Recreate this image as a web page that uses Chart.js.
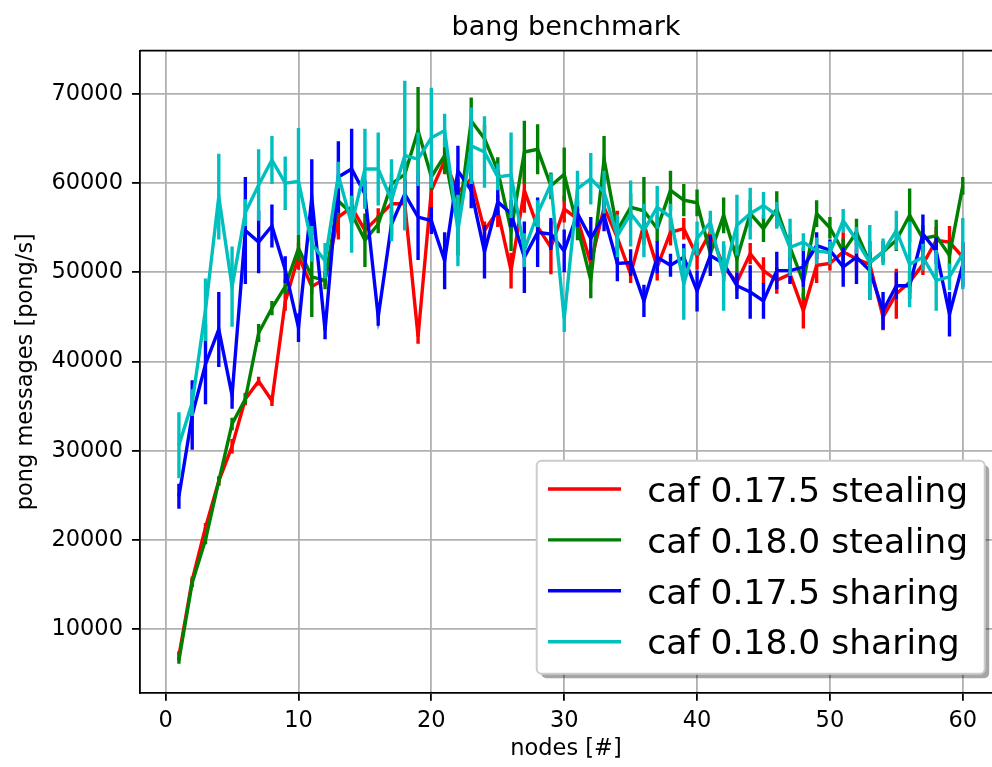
<!DOCTYPE html>
<html>
<head>
<meta charset="utf-8">
<title>bang benchmark</title>
<script src="https://cdn.jsdelivr.net/npm/chart.js@4.4.1/dist/chart.umd.min.js"></script>
<style>
    html, body { margin: 0; padding: 0; background: #fff; }
    canvas { display: block; }
</style>
</head>
<body>
<canvas id="chart" width="992" height="767"></canvas>
<script>
const nodes = [1, 2, 3, 4, 5, 6, 7, 8, 9, 10, 11, 12, 13, 14, 15, 16, 17, 18, 19, 20,
    21, 22, 23, 24, 25, 26, 27, 28, 29, 30, 31, 32, 33, 34, 35, 36, 37, 38, 39, 40,
    41, 42, 43, 44, 45, 46, 47, 48, 49, 50, 51, 52, 53, 54, 55, 56, 57, 58, 59, 60];

const xTicks = [0, 10, 20, 30, 40, 50, 60];
const yTicks = [10000, 20000, 30000, 40000, 50000, 60000, 70000];

const seriesLabels = ['caf 0.17.5 stealing', 'caf 0.18.0 stealing', 'caf 0.17.5 sharing', 'caf 0.18.0 sharing'];
const seriesColors = ['#ff0000', '#008000', '#0000ff', '#00bfbf'];

// mean pong rate per node count
const stealing175 = [7000, 15500, 21400, 26600, 30500, 35800, 37800, 35600, 46700, 51800,
    48400, 49300, 56200, 57300, 54700, 56200, 57700, 57700, 42800, 59200,
    62500, 59000, 60500, 54700, 56900, 50200, 59200, 55100, 52800, 57100,
    56000, 51000, 57300, 53900, 49800, 55400, 50600, 54500, 54900, 51800,
    54500, 50600, 48900, 52100, 50200, 49100, 49800, 45700, 50800, 51000,
    52300, 51500, 50900, 45000, 47600, 48900, 50900, 53600, 53400, 51700];
const stealing180 = [6500, 15200, 20000, 26600, 33000, 35800, 43200, 46000, 48400, 52700,
    49500, 49100, 58000, 56600, 53600, 55400, 59900, 61000, 65900, 60700,
    63100, 55400, 67000, 65000, 61400, 54700, 63500, 63800, 59700, 61000,
    55100, 49100, 62700, 54700, 57300, 56900, 54900, 59200, 58100, 57800,
    52100, 56400, 51500, 56600, 54900, 57100, 52800, 48900, 56600, 55000,
    52300, 54500, 51100, 52300, 53600, 56400, 53800, 54100, 51900, 59700];
const sharing175 = [24900, 34000, 39700, 43600, 36200, 54700, 53400, 55200, 50300, 43800,
    58400, 43500, 60700, 61600, 58800, 45000, 55400, 58800, 56200, 55800,
    51300, 61400, 59200, 52300, 57900, 56600, 51700, 54500, 54300, 52400,
    56600, 53800, 56400, 51000, 51100, 46800, 51700, 50800, 51700, 47900,
    51900, 51000, 48500, 47800, 46800, 50200, 50200, 50600, 53000, 52500,
    50600, 51700, 50200, 45700, 48500, 48500, 54300, 52400, 45300, 50900];
const sharing180 = [30600, 35400, 45800, 58500, 48400, 56700, 59800, 62600, 60000, 60200,
    53200, 51300, 60900, 55400, 61600, 61600, 58100, 63100, 62700, 65100,
    65900, 54700, 64200, 63500, 60700, 60900, 52500, 56600, 59900, 44800,
    59400, 60500, 59000, 54100, 56600, 54700, 57300, 56200, 48700, 53800,
    55600, 49600, 55300, 56600, 57500, 56400, 52800, 53400, 52400, 52200,
    55800, 53600, 51100, 52300, 54700, 50900, 51700, 49100, 49500, 52100];

// half length of the error bars
const stealing175Err = [500, 400, 500, 500, 800, 700, 500, 600, 1000, 1500,
    800, 800, 2500, 1000, 800, 1000, 1000, 2800, 800, 2000,
    1500, 1500, 1500, 1000, 1800, 2000, 2500, 1500, 3000, 1500,
    1200, 1500, 1500, 3000, 1000, 1500, 1500, 1500, 1200, 1500,
    1500, 1000, 1000, 1200, 1500, 1500, 1000, 2000, 2000, 800,
    2200, 1200, 1200, 1500, 2800, 1200, 1200, 1500, 1800, 1500];
const stealing180Err = [400, 500, 500, 500, 700, 600, 1000, 800, 800, 1500,
    4500, 1000, 1500, 1000, 3000, 1000, 1200, 1500, 4900, 1500,
    2000, 3500, 2600, 1500, 1500, 2300, 3500, 2800, 1500, 3000,
    1500, 2000, 2600, 1500, 1500, 3800, 1500, 2200, 1800, 1500,
    2000, 2000, 1500, 1500, 1500, 2000, 1500, 2000, 1500, 1200,
    1500, 1500, 1200, 1200, 1200, 3000, 1500, 1800, 1500, 1000];
const sharing175Err = [1400, 3900, 4500, 4200, 1500, 6000, 3500, 2400, 1500, 1600,
    4300, 1000, 4000, 4500, 1500, 1000, 1500, 1500, 4800, 1500,
    3200, 2800, 2000, 3000, 1500, 1500, 4000, 3900, 1800, 2400,
    1500, 2400, 1800, 2000, 1500, 1800, 1800, 1300, 1500, 2300,
    2300, 2000, 1500, 3000, 2000, 2100, 1500, 2200, 1500, 1200,
    2200, 3000, 3300, 2100, 1500, 1500, 2200, 1500, 2500, 2500];
const sharing180Err = [3700, 1500, 3500, 4800, 4500, 1500, 4000, 2700, 3000, 6000,
    2000, 2000, 1500, 3200, 4500, 4100, 4600, 8400, 3000, 5600,
    1900, 4000, 4300, 4000, 1500, 4800, 1900, 1500, 1200, 1500,
    2000, 2900, 2400, 2400, 3700, 3000, 2400, 1500, 4000, 1900,
    1300, 3900, 3400, 2900, 1500, 1500, 3200, 1000, 1500, 1300,
    1300, 1500, 4200, 1500, 2200, 4800, 1500, 3400, 1500, 4000];

const seriesValues = [stealing175, stealing180, sharing175, sharing180];
const seriesErrors = [stealing175Err, stealing180Err, sharing175Err, sharing180Err];

const LINE_WIDTH = 3.4;

// vertical error bars, drawn right after their own line so the stacking follows the series
const errorBars = {
    id: 'errorBars',
    afterDatasetDraw(chart, args) {
        const ds = chart.data.datasets[args.index];
        if (!ds.errors) return;
        const { ctx, chartArea, scales: { x, y } } = chart;
        ctx.save();
        ctx.beginPath();
        ctx.rect(chartArea.left, chartArea.top, chartArea.width, chartArea.height);
        ctx.clip();
        ctx.strokeStyle = ds.borderColor;
        ctx.lineWidth = ds.borderWidth;
        ctx.lineCap = 'butt';
        ctx.beginPath();
        ds.data.forEach((p, i) => {
            const px = x.getPixelForValue(p.x);
            ctx.moveTo(px, y.getPixelForValue(p.y - ds.errors[i]));
            ctx.lineTo(px, y.getPixelForValue(p.y + ds.errors[i]));
        });
        ctx.stroke();
        ctx.restore();
    }
};

// top spine plus the boxed legend in the lower right corner
const frameAndLegend = {
    id: 'frameAndLegend',
    afterDraw(chart) {
        const { ctx, chartArea } = chart;
        ctx.save();
        ctx.strokeStyle = '#000';
        ctx.lineWidth = 1.8;
        ctx.beginPath();
        ctx.moveTo(chartArea.left, chartArea.top);
        ctx.lineTo(chartArea.right, chartArea.top);
        ctx.stroke();

        const w = 448, h = 213, r = 5;
        const left = chartArea.right - 455.3;
        const top = chartArea.bottom - 232;
        const box = (bx, by) => {
            ctx.beginPath();
            ctx.moveTo(bx + r, by);
            ctx.lineTo(bx + w - r, by);
            ctx.arcTo(bx + w, by, bx + w, by + r, r);
            ctx.lineTo(bx + w, by + h - r);
            ctx.arcTo(bx + w, by + h, bx + w - r, by + h, r);
            ctx.lineTo(bx + r, by + h);
            ctx.arcTo(bx, by + h, bx, by + h - r, r);
            ctx.lineTo(bx, by + r);
            ctx.arcTo(bx, by, bx + r, by, r);
            ctx.closePath();
        };
        box(left + 4.5, top + 4.5);
        ctx.fillStyle = 'rgba(0, 0, 0, 0.35)';
        ctx.fill();
        box(left, top);
        ctx.fillStyle = '#fff';
        ctx.fill();
        ctx.strokeStyle = '#cccccc';
        ctx.lineWidth = 2;
        ctx.stroke();

        ctx.font = '34.5px "DejaVu Sans"';
        ctx.textAlign = 'left';
        ctx.textBaseline = 'alphabetic';
        seriesLabels.forEach((label, i) => {
            const ly = top + 28.3 + i * 50.9;
            ctx.strokeStyle = seriesColors[i];
            ctx.lineWidth = LINE_WIDTH;
            ctx.beginPath();
            ctx.moveTo(left + 11.3, ly);
            ctx.lineTo(left + 84.3, ly);
            ctx.stroke();
            ctx.fillStyle = '#000';
            ctx.fillText(label, left + 110.6, ly + 12.7);
        });
        ctx.restore();
    }
};

const datasets = seriesValues.map((values, i) => ({
    label: seriesLabels[i],
    data: nodes.map((n, j) => ({ x: n, y: values[j] })),
    errors: seriesErrors[i],
    borderColor: seriesColors[i],
    backgroundColor: seriesColors[i],
    borderWidth: LINE_WIDTH,
    pointRadius: 0,
    tension: 0,
    fill: false,
    order: seriesValues.length - i
}));

Chart.defaults.font.family = '"DejaVu Sans"';
Chart.defaults.color = '#000';

new Chart(document.getElementById('chart'), {
    type: 'line',
    data: { datasets },
    options: {
        responsive: false,
        animation: false,
        layout: { padding: 0 },
        plugins: {
            legend: { display: false },
            tooltip: { enabled: false },
            title: {
                display: true,
                fullSize: false,
                text: 'bang benchmark',
                color: '#000',
                font: { size: 27, weight: 'normal' },
                padding: { top: 12, bottom: 6.3 }
            }
        },
        scales: {
            x: {
                type: 'linear',
                min: -1.93,
                max: 62.2,
                afterBuildTicks: scale => { scale.ticks = xTicks.map(v => ({ value: v })); },
                afterFit: scale => { scale.height = 74.3; },
                ticks: { font: { size: 22.5 }, padding: 7.3, maxRotation: 0, color: '#000' },
                grid: { color: '#b0b0b0', lineWidth: 1.8, tickColor: '#000', tickLength: 8, tickWidth: 1.8 },
                border: { color: '#000', width: 1.8 },
                title: { display: true, text: 'nodes [#]', font: { size: 22.5 }, padding: { top: 0, bottom: 4.5 }, color: '#000' }
            },
            y: {
                type: 'linear',
                min: 2860,
                max: 74860,
                afterBuildTicks: scale => { scale.ticks = yTicks.map(v => ({ value: v })); },
                afterFit: scale => { scale.width = 140; },
                ticks: { font: { size: 22.5 }, padding: 9, color: '#000', callback: v => String(v) },
                grid: { color: '#b0b0b0', lineWidth: 1.8, tickColor: '#000', tickLength: 8, tickWidth: 1.8 },
                border: { color: '#000', width: 1.8 },
                title: { display: true, text: 'pong messages [pong/s]', font: { size: 22.5 }, padding: { top: 12.5, bottom: 0 }, color: '#000' }
            }
        }
    },
    plugins: [errorBars, frameAndLegend]
});
</script>
</body>
</html>
